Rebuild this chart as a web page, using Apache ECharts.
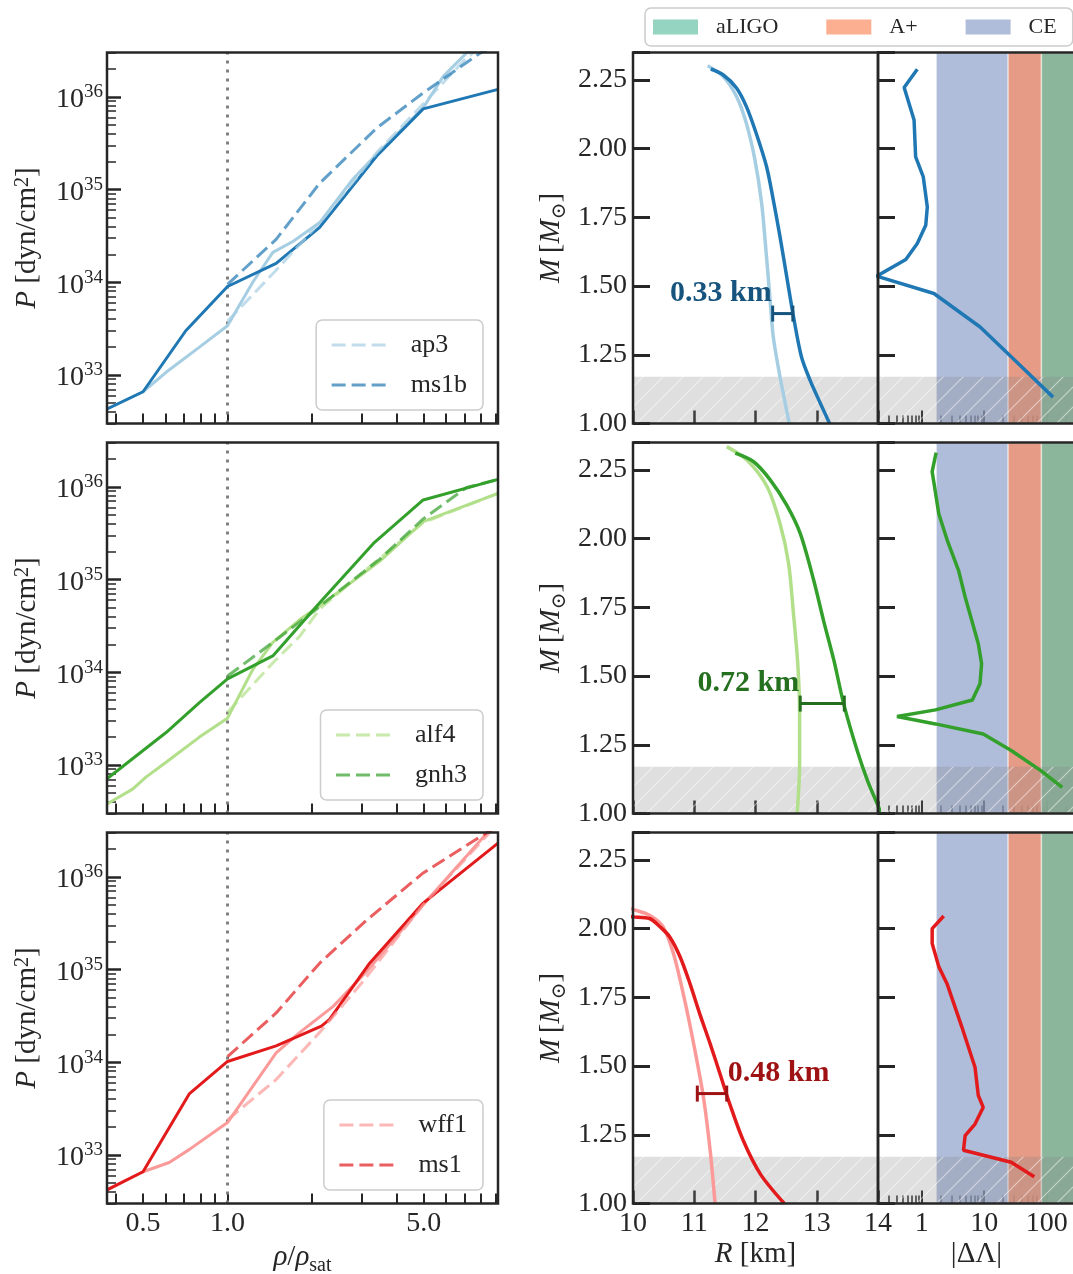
<!DOCTYPE html>
<html>
<head>
<meta charset="utf-8">
<script src="https://cdn.jsdelivr.net/npm/echarts@6.0.0/dist/echarts.min.js"></script>
<style>
html,body{margin:0;padding:0;background:#ffffff;}
#chart{width:1073px;height:1274px;}
</style>
</head>
<body>
<div id="chart"></div>
<script>
// ================= DATA =================
// tick values / labels
const rhoTickValues = [0.4,0.5,0.6,0.7,0.8,0.9,1,2,3,4,5,6,7,8,9];
const rhoLabelValues = [0.5,1,5];
const pressureDecades = [33,34,35,36];
const pressureMinorMultipliers = [2,3,4,5,6,7,8,9];
const deltaLambdaMajorTicks = [1,10,100];
const deltaLambdaMinorTicks = [0.3,0.4,0.5,0.6,0.7,0.8,0.9,2,3,4,5,6,7,8,9,20,30,40,50,60,70,80,90,200];
const rhoSat = 1.0;

// detector bands: |ΔΛ| thresholds
const bandNames = ['CE','A+','aLIGO'];
const bandStarts = [1.7, 24, 82];
// low-mass shaded region [M_min, M_max]
const lowMassRange = [1.0, 1.17];

// ---- P(rho) [rho/rho_sat, P dyn/cm^2] ----
const ap3Solid  = [[0.372,4.3e32],[0.5,6.6e32],[0.604,1.07e33],[0.794,2.0e33],[1.0,3.4e33],[1.23,1.0e34],[1.45,2.1e34],[1.71,2.75e34],[2.13,4.4e34],[2.8,1.3e35],[3.4,2.4e35],[4.98,7.6e35],[5.87,1.66e36],[7.1,2.95e36],[9.2,5.0e36]];
const ap3Dashed = [[1.0,3.8e33],[1.49,1.35e34],[2.13,4.4e34],[2.8,1.2e35],[3.4,2.5e35],[5.0,8.5e35],[7.0,2.5e36],[9.2,5.0e36]];
const ms1bSolid = [[0.372,4.3e32],[0.5,6.6e32],[0.71,3.0e33],[1.0,9.0e33],[1.49,1.6e34],[2.13,3.9e34],[3.4,2.3e35],[4.98,7.4e35],[9.2,1.2e36]];
const ms1bDashed= [[1.0,9.5e33],[1.49,2.9e34],[2.13,1.17e35],[3.4,4.6e35],[4.98,1.1e36],[7.94,2.95e36],[9.2,3.7e36]];

const alf4Solid = [[0.372,3.8e32],[0.459,5.5e32],[0.512,7.4e32],[0.604,1.07e33],[0.794,2.0e33],[1.0,3.2e33],[1.23,1.07e34],[1.45,2.1e34],[1.81,3.7e34],[2.13,5.2e34],[2.45,7.1e34],[3.49,1.58e35],[4.98,4.2e35],[9.2,8.5e35]];
const alf4Dashed= [[1.0,3.7e33],[1.45,1.26e34],[1.81,2.45e34],[2.13,4.8e34],[3.13,1.29e35],[4.98,4.1e35],[9.2,8.5e35]];
const gnh3Solid = [[0.372,7.1e32],[0.604,2.24e33],[0.794,4.7e33],[1.0,8.5e33],[1.45,1.5e34],[2.13,5.6e34],[3.31,2.45e35],[4.98,7.2e35],[9.2,1.2e36]];
const gnh3Dashed= [[1.0,9.1e33],[1.45,2.1e34],[2.13,5.1e34],[2.45,7.2e34],[3.49,1.66e35],[4.98,4.5e35],[7.1,9.8e35],[9.2,1.2e36]];

const wff1Solid = [[0.372,4.2e32],[0.5,6.6e32],[0.62,8.3e32],[0.732,1.15e33],[1.0,2.24e33],[1.23,5.5e33],[1.49,1.26e34],[1.81,2.1e34],[2.38,4.0e34],[3.13,9.5e34],[4.98,5.0e35],[8.6,3.2e36],[9.2,4.0e36]];
const wff1Dashed= [[1.0,2.4e33],[1.49,6.5e33],[2.13,2.1e34],[3.0,7.1e34],[4.98,5.0e35],[8.6,3.0e36],[9.2,3.8e36]];
const ms1Solid  = [[0.372,4.2e32],[0.5,6.6e32],[0.732,4.6e33],[1.0,1.02e34],[1.49,1.5e34],[2.16,2.45e34],[2.31,2.9e34],[3.21,1.17e35],[4.98,5.2e35],[9.2,2.3e36]];
const ms1Dashed = [[1.0,1.15e34],[1.49,3.4e34],[2.13,1.17e35],[3.13,3.4e35],[4.98,1.1e36],[7.94,2.7e36],[9.2,3.5e36]];

// ---- M(R) [R km, M Msun] ----
const ap3MR  = [[11.22,2.302],[11.47,2.263],[11.69,2.19],[11.85,2.093],[11.99,1.96],[12.10,1.802],[12.17,1.632],[12.23,1.474],[12.29,1.316],[12.40,1.17],[12.54,1.012],[12.55,1.0]];
const ms1bMR = [[11.27,2.29],[11.47,2.269],[11.69,2.221],[11.85,2.154],[12.01,2.057],[12.18,1.935],[12.29,1.814],[12.40,1.68],[12.51,1.534],[12.62,1.389],[12.75,1.243],[12.89,1.158],[13.06,1.073],[13.21,1.0]];
const alf4MR = [[11.53,2.335],[11.86,2.286],[12.19,2.189],[12.40,2.055],[12.54,1.91],[12.62,1.727],[12.69,1.545],[12.72,1.362],[12.72,1.18],[12.68,1.0]];
const gnh3MR = [[11.67,2.311],[11.97,2.28],[12.24,2.214],[12.51,2.122],[12.73,2.019],[12.95,1.849],[13.11,1.703],[13.28,1.557],[13.44,1.399],[13.66,1.229],[13.83,1.119],[13.99,1.034],[14.05,1.0]];
const wff1MR = [[9.8,2.085],[10.0,2.07],[10.27,2.049],[10.49,2.007],[10.66,1.91],[10.82,1.764],[10.98,1.593],[11.15,1.387],[11.26,1.192],[11.34,1.0]];
const ms1MR  = [[9.8,2.047],[10.0,2.043],[10.27,2.037],[10.44,2.007],[10.60,1.97],[10.77,1.897],[10.93,1.80],[11.09,1.69],[11.26,1.581],[11.42,1.472],[11.58,1.362],[11.80,1.229],[12.08,1.107],[12.47,1.0]];

// ---- |ΔΛ|(M) [|ΔΛ|, M Msun] ----
const ms1bDeltaLambda = [[0.85,2.289],[0.524,2.223],[0.755,2.104],[0.80,1.97],[1.06,1.897],[1.23,1.788],[1.16,1.721],[0.85,1.655],[0.557,1.597],[0.19,1.536],[1.57,1.473],[8.6,1.351],[33,1.224],[126,1.096]];
const gnh3DeltaLambda = [[1.70,2.313],[1.47,2.244],[1.88,2.09],[2.6,1.99],[3.88,1.885],[4.95,1.788],[6.31,1.703],[8.04,1.618],[9.08,1.545],[8.55,1.472],[6.46,1.413],[1.66,1.377],[0.403,1.353],[1.66,1.326],[9.64,1.289],[27,1.229],[80.4,1.156],[177,1.095]];
const ms1DeltaLambda  = [[2.25,2.046],[1.47,2.0],[1.47,1.946],[1.88,1.861],[2.54,1.80],[4.39,1.642],[7.12,1.496],[8.04,1.393],[9.64,1.35],[7.12,1.289],[4.95,1.247],[4.66,1.194],[27,1.15],[63.1,1.097]];

// ---- radius difference bars at M = 1.4 [R_low, R_high, M] ----
const errorBarTop = [12.28, 12.61, 1.40];
const errorBarMid = [12.73, 13.45, 1.40];
const errorBarBot = [11.05, 11.53, 1.40];
const errorBarLabels = ['0.33 km', '0.72 km', '0.48 km'];

// ================= STYLE / LAYOUT =================
const AX = '#262626';
const FONT = "'Liberation Serif','DejaVu Serif',serif";
const TICK_FS = 28;
const rowTops = [52.5, 442.5, 832.5];
const ROW_H = 371;
const RHO_MIN = 0.372, RHO_MAX = 9.2;
const P_MIN = 3e32, P_MAX = 3e36;
const R_MIN = 10, R_MAX = 14, M_MIN = 1.0, M_MAX = 2.35;
const DL_MIN = 0.2, DL_MAX = 283;
const lg = Math.log10;
const bandColors = {
  'CE': 'rgba(141,160,203,0.7)',
  'A+': 'rgba(252,141,98,0.7)',
  'aLIGO': 'rgba(102,194,165,0.7)'
};

const rows = [
  {names:['ap3','ms1b'], colors:['#a6cee3','#1f78b4'], text:'#16547e',
   solid:[ap3Solid, ms1bSolid], dashed:[ap3Dashed, ms1bDashed],
   mr:[ap3MR, ms1bMR], dl:ms1bDeltaLambda, err:errorBarTop, errText:errorBarLabels[0], errSide:'left'},
  {names:['alf4','gnh3'], colors:['#b2df8a','#33a02c'], text:'#24701f',
   solid:[alf4Solid, gnh3Solid], dashed:[alf4Dashed, gnh3Dashed],
   mr:[alf4MR, gnh3MR], dl:gnh3DeltaLambda, err:errorBarMid, errText:errorBarLabels[1], errSide:'left'},
  {names:['wff1','ms1'], colors:['#fb9a99','#e31a1c'], text:'#9f1214',
   solid:[wff1Solid, ms1Solid], dashed:[wff1Dashed, ms1Dashed],
   mr:[wff1MR, ms1MR], dl:ms1DeltaLambda, err:errorBarBot, errText:errorBarLabels[2], errSide:'right'}
];

function makeHatch() {
  const c = document.createElement('canvas');
  c.width = 20; c.height = 20;
  const g = c.getContext('2d');
  g.fillStyle = 'rgba(128,128,128,0.25)';
  g.fillRect(0, 0, 20, 20);
  g.strokeStyle = 'rgba(255,255,255,0.5)';
  g.lineWidth = 1.2;
  g.beginPath();
  g.moveTo(-5, 25); g.lineTo(25, -5);
  g.moveTo(-5, 5); g.lineTo(5, -5);
  g.moveTo(15, 25); g.lineTo(25, 15);
  g.stroke();
  return c;
}
const hatch = {image: makeHatch(), repeat: 'repeat'};

const richTick = {
  b: {fontSize: 28, fontFamily: FONT, color: AX, verticalAlign: 'top', padding: [3, 0, 0, 0], lineHeight: 28},
  e: {fontSize: 19, fontFamily: FONT, color: AX, verticalAlign: 'top', lineHeight: 19}
};
const richName = {
  n: {fontSize: 29, fontFamily: FONT, color: AX, verticalAlign: 'top', lineHeight: 34},
  i: {fontSize: 29, fontFamily: FONT, fontStyle: 'italic', color: AX, verticalAlign: 'top', lineHeight: 34},
  s: {fontSize: 20, fontFamily: FONT, color: AX, verticalAlign: 'top', lineHeight: 20, padding: [13, 0, 0, 0]},
  e: {fontSize: 20, fontFamily: FONT, color: AX, verticalAlign: 'top', lineHeight: 20}
};
const nameStyle = {rich: richName, fontSize: 29, fontFamily: FONT, color: AX};
const tickLabel = (extra) => Object.assign({show: true, fontSize: TICK_FS, color: AX, fontFamily: FONT}, extra);

const option = {
  animation: false,
  backgroundColor: '#ffffff',
  textStyle: {fontFamily: FONT, color: AX},
  grid: [], xAxis: [], yAxis: [], legend: [], series: []
};
const pushGrid = o => (option.grid.push(Object.assign({show: true, borderColor: AX, borderWidth: 2.5,
  backgroundColor: 'transparent', z: 10, containLabel: false, outerBoundsMode: 'none'}, o)), option.grid.length - 1);
const pushX = o => (option.xAxis.push(o), option.xAxis.length - 1);
const pushY = o => (option.yAxis.push(o), option.yAxis.length - 1);
const baseAxis = (gi, extra) => Object.assign({
  gridIndex: gi, axisLine: {show: false, onZero: false}, splitLine: {show: false},
  axisTick: {show: false}, axisLabel: {show: false}, axisPointer: {show: false},
  nameMoveOverlap: false
}, extra);

const pressureMinor = [];
[32, 33, 34, 35, 36].forEach(n => pressureMinorMultipliers.forEach(k => pressureMinor.push(n + lg(k))));

function bandItem(color) {
  return function (params, api) {
    const cs = params.coordSys;
    const x0 = api.coord([api.value(0), 1.5])[0];
    const x1 = cs.x + cs.width;
    return {type: 'rect', shape: {x: x0, y: cs.y, width: x1 - x0, height: cs.height},
      style: {fill: color, stroke: 'rgba(255,255,255,0.65)', lineWidth: 1.5}};
  };
}
function greyItem(params, api) {
  const cs = params.coordSys;
  const yLo = api.coord([1, api.value(0)])[1];
  const yHi = api.coord([1, api.value(1)])[1];
  return {type: 'rect', shape: {x: cs.x, y: yHi, width: cs.width, height: yLo - yHi},
    style: {fill: hatch}};
}
function errItem(color, text, side) {
  return function (params, api) {
    const a = api.coord([api.value(0), api.value(2)]);
    const b = api.coord([api.value(1), api.value(2)]);
    const cap = 8;
    const st = {stroke: color, lineWidth: 3};
    return {type: 'group', children: [
      {type: 'line', shape: {x1: a[0], y1: a[1], x2: b[0], y2: b[1]}, style: st},
      {type: 'line', shape: {x1: a[0], y1: a[1] - cap, x2: a[0], y2: a[1] + cap}, style: st},
      {type: 'line', shape: {x1: b[0], y1: b[1] - cap, x2: b[0], y2: b[1] + cap}, style: st},
      {type: 'text', x: side === 'left' ? a[0] - 1 : b[0] + 1, y: a[1] - 20,
        style: {text: text, fill: color, fontSize: 30, fontWeight: 'bold', fontFamily: FONT,
          align: side === 'left' ? 'right' : 'left', verticalAlign: 'middle'}}
    ]};
  };
}

rows.forEach((row, r) => {
  const top = rowTops[r];
  const last = r === 2;

  // ---------- left: P(rho) ----------
  const gL = pushGrid({left: 107, top: top, width: 391, height: ROW_H});
  const xL = pushX(baseAxis(gL, {type: 'log', logBase: 10, min: RHO_MIN, max: RHO_MAX, show: false}));
  pushX(baseAxis(gL, {type: 'value', position: 'bottom', min: lg(RHO_MIN), max: lg(RHO_MAX),
    axisTick: {show: true, inside: true, length: 10, customValues: rhoTickValues.map(lg), lineStyle: {color: AX, width: 2}},
    axisLabel: last ? tickLabel({customValues: rhoLabelValues.map(lg), formatter: v => Math.pow(10, v).toFixed(1), margin: 6}) : {show: false},
    name: last ? '{i|ρ}{n|/}{i|ρ}{s|sat}' : '', nameLocation: 'middle', nameGap: 39, nameTextStyle: nameStyle}));
  const yL = pushY(baseAxis(gL, {type: 'log', logBase: 10, min: P_MIN, max: P_MAX, show: false}));
  pushY(baseAxis(gL, {type: 'value', position: 'left', min: lg(P_MIN), max: lg(P_MAX),
    axisTick: {show: true, inside: true, length: 14, customValues: pressureDecades, lineStyle: {color: AX, width: 2.5}},
    axisLabel: tickLabel({customValues: pressureDecades, formatter: v => '{b|10}{e|' + Math.round(v) + '}', rich: richTick, margin: 4}),
    name: '{i|P}{n| [dyn/cm}{e|2}{n|]}', nameLocation: 'middle', nameRotate: 90, nameGap: 60, nameTextStyle: nameStyle}));
  pushY(baseAxis(gL, {type: 'value', position: 'left', min: lg(P_MIN), max: lg(P_MAX),
    axisTick: {show: true, inside: true, length: 9, customValues: pressureMinor, lineStyle: {color: AX, width: 1.5}}}));

  row.names.forEach((nm, k) => {
    option.series.push({
      type: 'line', name: nm + ' model', xAxisIndex: xL, yAxisIndex: yL, data: row.solid[k],
      symbol: 'none', silent: true, z: 5, lineStyle: {color: row.colors[k], width: 3},
      itemStyle: {color: row.colors[k]},
      markLine: k === 0 ? {silent: true, symbol: ['none', 'none'], label: {show: false},
        lineStyle: {color: '#808080', width: 3, type: [3, 6]}, data: [{xAxis: rhoSat}]} : undefined
    });
  });
  row.names.forEach((nm, k) => {
    option.series.push({
      type: 'line', name: nm, xAxisIndex: xL, yAxisIndex: yL, data: row.dashed[k],
      symbol: 'none', silent: true, z: 5,
      lineStyle: {color: row.colors[k], width: 3, type: [14, 6], opacity: 0.7},
      itemStyle: {color: row.colors[k], opacity: 0.7}
    });
  });
  option.legend.push({
    data: row.names, orient: 'vertical', right: 590, top: top + 267.5,
    itemWidth: 55, itemHeight: 14, itemGap: 10, padding: [10, 16, 10, 14],
    borderColor: '#cccccc', borderWidth: 1.5, borderRadius: 6, backgroundColor: 'rgba(255,255,255,0.8)',
    lineStyle: {width: 3},
    itemStyle: {opacity: 0, borderWidth: 0},
    textStyle: {fontSize: 26, lineHeight: 30, fontFamily: FONT, color: AX, padding: [0, 0, 0, 19]},
    selectedMode: false, z: 8
  });

  // ---------- middle: M(R) ----------
  const gM = pushGrid({left: 633, top: top, width: 245, height: ROW_H});
  const xM = pushX(baseAxis(gM, {type: 'value', position: 'bottom', min: R_MIN, max: R_MAX, interval: 1,
    axisTick: {show: true, inside: true, length: 13, lineStyle: {color: AX, width: 2.5}},
    axisLabel: last ? tickLabel({margin: 6}) : {show: false},
    name: last ? '{i|R}{n| [km]}' : '', nameLocation: 'middle', nameGap: 36, nameTextStyle: nameStyle}));
  const yM = pushY(baseAxis(gM, {type: 'value', position: 'left', min: M_MIN, max: M_MAX, interval: 0.25,
    axisTick: {show: true, inside: true, length: 17, lineStyle: {color: AX, width: 3}},
    axisLabel: tickLabel({formatter: v => (v > M_MAX - 0.05 ? '' : v.toFixed(2)), margin: 6}),
    name: '{i|M}{n|\u2009[}{i|M}{s|⊙}{n|]}', nameLocation: 'middle', nameRotate: 90, nameGap: 62, nameTextStyle: nameStyle}));
  option.series.push({type: 'custom', name: 'low-mass', xAxisIndex: xM, yAxisIndex: yM, z: 3, silent: true,
    data: [lowMassRange], renderItem: greyItem});
  row.names.forEach((nm, k) => {
    option.series.push({
      type: 'line', name: nm + ' MR', xAxisIndex: xM, yAxisIndex: yM, data: row.mr[k],
      symbol: 'none', silent: true, z: 5, smooth: 0.3, lineStyle: {color: row.colors[k], width: 3.5}
    });
  });
  option.series.push({type: 'custom', name: 'dR', xAxisIndex: xM, yAxisIndex: yM, z: 6, silent: true,
    data: [row.err], renderItem: errItem(row.text, row.errText, row.errSide)});

  // ---------- right: |ΔΛ|(M) ----------
  const gD = pushGrid({left: 878, top: top, width: 197, height: ROW_H});
  const xD = pushX(baseAxis(gD, {type: 'log', logBase: 10, min: DL_MIN, max: DL_MAX, show: false}));
  pushX(baseAxis(gD, {type: 'value', position: 'bottom', min: lg(DL_MIN), max: lg(DL_MAX),
    axisTick: {show: true, inside: true, length: 13, customValues: deltaLambdaMajorTicks.map(lg), lineStyle: {color: AX, width: 2}},
    axisLabel: last ? tickLabel({customValues: deltaLambdaMajorTicks.map(lg), formatter: v => String(Math.round(Math.pow(10, v))), margin: 6}) : {show: false},
    name: last ? '|ΔΛ|' : '', nameLocation: 'middle', nameGap: 36, nameTextStyle: {fontSize: 29, fontFamily: FONT, color: AX}}));
  pushX(baseAxis(gD, {type: 'value', position: 'bottom', min: lg(DL_MIN), max: lg(DL_MAX),
    axisTick: {show: true, inside: true, length: 8, customValues: deltaLambdaMinorTicks.map(lg), lineStyle: {color: AX, width: 1.5}}}));
  const yD = pushY(baseAxis(gD, {type: 'value', position: 'left', min: M_MIN, max: M_MAX, interval: 0.25,
    axisTick: {show: true, inside: true, length: 17, lineStyle: {color: AX, width: 3}}}));
  bandNames.forEach((bn, k) => {
    option.series.push({type: 'custom', name: bn, xAxisIndex: xD, yAxisIndex: yD, z: 1 + k * 0.1, silent: true,
      itemStyle: {color: bandColors[bn]},
      data: [[bandStarts[k], DL_MAX]], renderItem: bandItem(bandColors[bn])});
  });
  option.series.push({type: 'custom', name: 'low-mass', xAxisIndex: xD, yAxisIndex: yD, z: 3, silent: true,
    data: [lowMassRange], renderItem: greyItem});
  option.series.push({
    type: 'line', name: row.names[1] + ' dL', xAxisIndex: xD, yAxisIndex: yD, data: row.dl,
    symbol: 'none', silent: true, z: 5, lineStyle: {color: row.colors[1], width: 3.5}
  });
});

option.legend.push({
  data: ['aLIGO', 'A+', 'CE'].map(n => ({name: n, icon: 'rect', itemStyle: {color: bandColors[n]}})),
  orient: 'horizontal', left: 645, top: 8, itemWidth: 45, itemHeight: 15, itemGap: 48,
  padding: [8, 16, 8, 8], borderColor: '#cccccc', borderWidth: 1.5, borderRadius: 6,
  backgroundColor: 'rgba(255,255,255,0.8)',
  textStyle: {fontSize: 22, lineHeight: 21, fontFamily: FONT, color: AX, padding: [0, 0, 0, 13]},
  selectedMode: false, z: 8
});

const chart = echarts.init(document.getElementById('chart'), null, {renderer: 'canvas', width: 1073, height: 1274});
chart.setOption(option);
</script>
</body>
</html>
